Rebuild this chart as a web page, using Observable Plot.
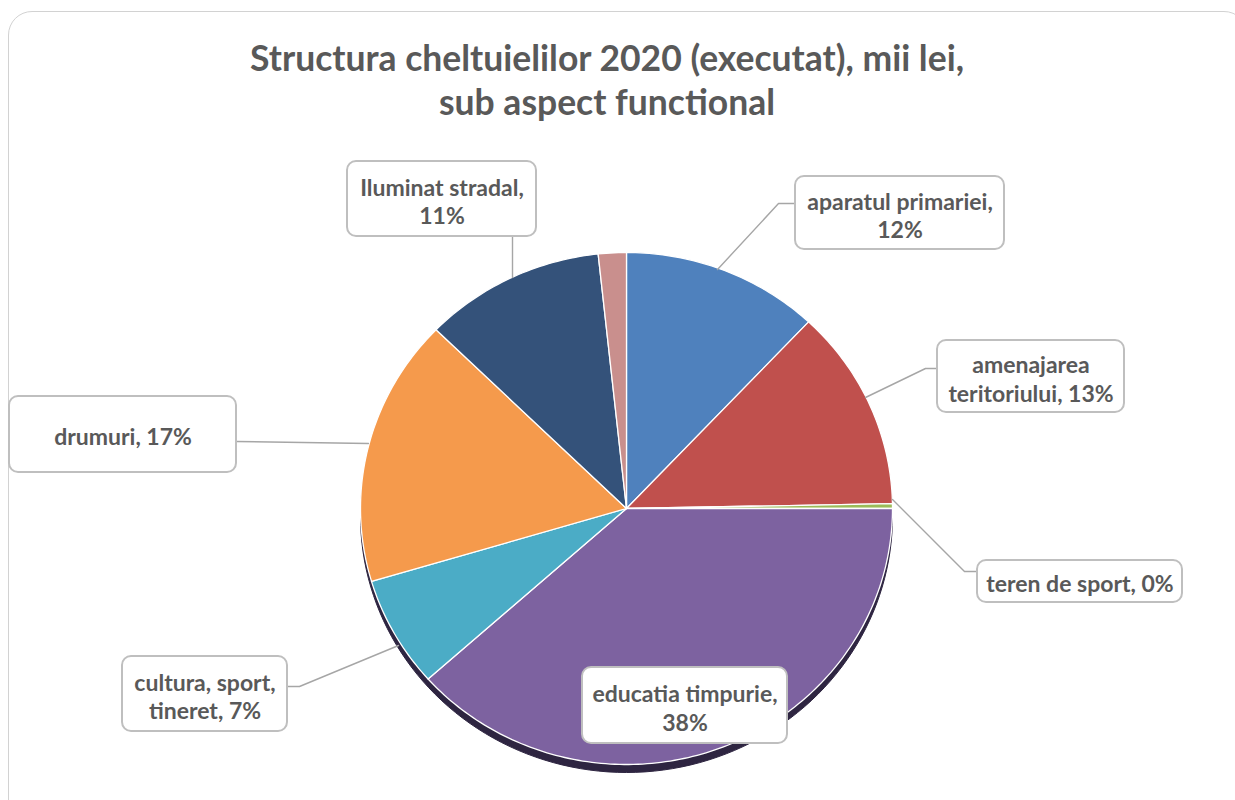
<!DOCTYPE html>
<html>
<head>
<meta charset="utf-8">
<script src="https://cdn.jsdelivr.net/npm/d3@7"></script>
<script src="https://cdn.jsdelivr.net/npm/@observablehq/plot@0.6"></script>
<style>
  html, body { margin: 0; padding: 0; background: #ffffff; }
  #wrap { position: relative; width: 1235px; height: 800px; overflow: hidden; font-family: Lato, "Open Sans", sans-serif; }
  #frame { position: absolute; left: 8px; top: 11px; width: 1240px; height: 820px; border: 1.5px solid #d2d2d2; border-radius: 24px; box-sizing: border-box; }
  #title { position: absolute; left: 0; top: 36px; width: 1214px; text-align: center; font-weight: 700; font-size: 35.5px; line-height: 44px; color: #595959; }
  #chart { position: absolute; left: 0; top: 130px; }
</style>
</head>
<body>
<div id="wrap">
  <div id="frame"></div>
  <div id="title">Structura cheltuielilor 2020 (executat), mii lei,<br>sub aspect functional</div>
  <div id="chart"></div>
</div>
<script>
// ---- data (shares of expenditure) ----
const categories = ["aparatul primariei", "amenajarea teritoriului", "teren de sport", "educatia timpurie", "cultura, sport, tineret", "drumuri", "Iluminat stradal", "alte"];
const values = [12.0, 12.7, 0.3, 38.4, 7.0, 16.9, 11.0, 1.7];
const colors = ["#4f81bd", "#c0504d", "#9bbb59", "#7d62a0", "#4bacc6", "#f59a4c", "#34527a", "#c98f8d"];
// label texts (split into lines), {p} = percentage
const labelLines = [
  "aparatul primariei,\n{p}",
  "amenajarea\nteritoriului, {p}",
  "teren de sport, {p}",
  "educatia timpurie,\n{p}",
  "cultura, sport,\ntineret, {p}",
  "drumuri, {p}",
  "Iluminat stradal,\n{p}",
  null
];

// ---- layout (pixel page coordinates) ----
const TOP = 130, W = 1235, H = 800;
const pie = {cx: 626, cy: 508, rx: 266, ry: 256, shadow: 8};
const boxes = [
  [795, 176, 1004, 249],
  [937, 340, 1124, 412],
  [977, 560, 1182, 602],
  [582, 667, 787, 743],
  [122, 656, 287, 731],
  [9, 396, 236, 472],
  [347, 161, 536, 236],
  null
];
const leaders = [
  [[717, 269], [778, 203], [795, 203]],
  [[865, 397], [925, 368], [937, 368]],
  [[892, 499], [964, 571], [977, 571]],
  null,
  [[398, 645], [299, 686], [287, 686]],
  [[368, 443], [236, 441]],
  [[512, 277], [512, 236]],
  null
];

// ---- build slice geometry from the values ----
const total = d3.sum(values);
const arcs = d3.pie().sort(null).startAngle(0).endAngle(2 * Math.PI)(values);
const pt = (a, dy = 0) => [pie.cx + pie.rx * Math.sin(a), pie.cy + dy - pie.ry * Math.cos(a)];
const slicePts = [];
arcs.forEach((a, i) => {
  const name = categories[i];
  slicePts.push({name, x: pie.cx, y: pie.cy});
  const n = Math.max(2, Math.ceil((a.endAngle - a.startAngle) / (Math.PI / 180)));
  for (let k = 0; k <= n; k++) {
    const ang = a.startAngle + (a.endAngle - a.startAngle) * k / n;
    const [x, y] = pt(ang);
    slicePts.push({name, x, y});
  }
  slicePts.push({name, x: pie.cx, y: pie.cy});
});
const shadowPts = d3.range(0, 361, 2).map(d => {
  const [x, y] = pt(d * Math.PI / 180, pie.shadow);
  return {x, y};
});

const leaderPts = [];
leaders.forEach((l, i) => { if (l) l.forEach(([x, y]) => leaderPts.push({name: categories[i], x, y})); });

const labelData = [];
categories.forEach((c, i) => {
  if (!labelLines[i]) return;
  const p = Math.round(values[i] / total * 100) + "%";
  const [x1, y1, x2, y2] = boxes[i];
  labelData.push({name: c, text: labelLines[i].replace("{p}", p), x1, y1, x2, y2, x: (x1 + x2) / 2, y: (y1 + y2) / 2 + 2});
});

const chart = Plot.plot({
  width: W,
  height: H - TOP,
  margin: 0,
  x: {domain: [0, W], range: [0, W], axis: null},
  y: {domain: [TOP, H], range: [0, H - TOP], axis: null},
  color: {domain: categories, range: colors},
  style: {background: "transparent", overflow: "visible"},
  marks: [
    Plot.line(shadowPts, {x: "x", y: "y", fill: "#2e2541", stroke: "#2e2541", strokeWidth: 1}),
    Plot.line(slicePts, {x: "x", y: "y", z: "name", fill: "name", stroke: "#ffffff", strokeWidth: 1.3, strokeLinejoin: "round"}),
    Plot.line(leaderPts, {x: "x", y: "y", z: "name", stroke: "#a6a6a6", strokeWidth: 1.4}),
    Plot.rect(labelData, {x1: "x1", x2: "x2", y1: "y1", y2: "y2", fill: "#ffffff", stroke: "#bfbfbf", strokeWidth: 2, rx: 9}),
    Plot.text(labelData, {x: "x", y: "y", text: "text", fill: "#595959", fontSize: 23, fontWeight: 700, fontFamily: "Lato, 'Open Sans', sans-serif", lineHeight: 1.22, lineAnchor: "middle"})
  ]
});
document.getElementById("chart").appendChild(chart);
</script>
</body>
</html>
